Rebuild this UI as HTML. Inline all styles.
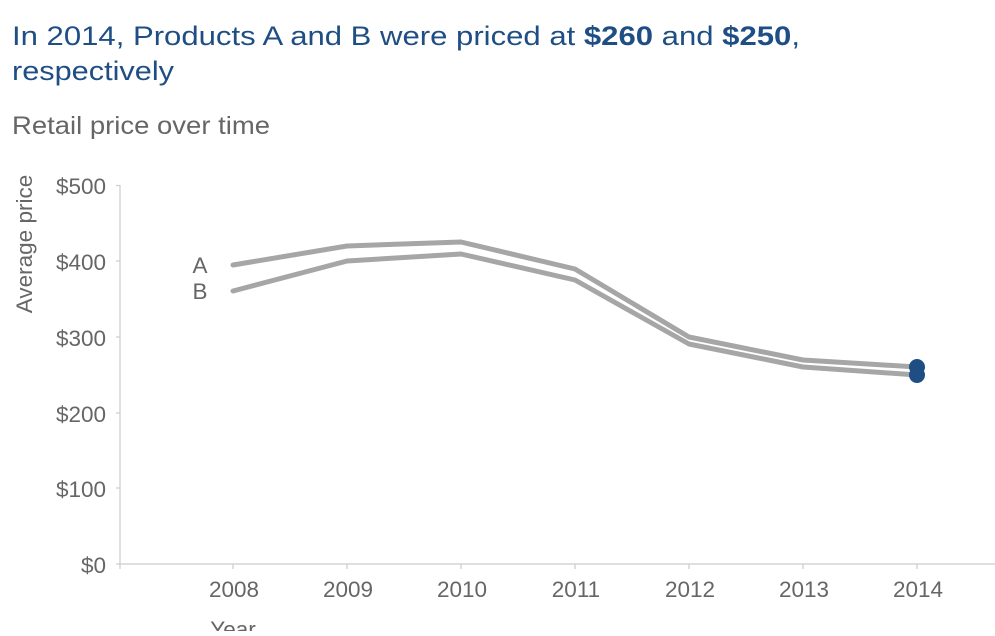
<!DOCTYPE html>
<html><head><style>
body{margin:0;width:995px;height:631px;overflow:hidden;background:#fff;font-family:"Liberation Sans",sans-serif}
</style></head><body>
<svg width="995" height="631" xmlns="http://www.w3.org/2000/svg" font-family="Liberation Sans, sans-serif">
<text x="12" y="45" font-size="27" fill="#1f4e85" textLength="788" lengthAdjust="spacingAndGlyphs">In 2014, Products A and B were priced at <tspan font-weight="bold">$260</tspan> and <tspan font-weight="bold">$250</tspan>,</text>
<text x="12" y="80" font-size="27" fill="#1f4e85" textLength="162" lengthAdjust="spacingAndGlyphs">respectively</text>
<text x="12" y="134" font-size="25" fill="#666" textLength="258" lengthAdjust="spacingAndGlyphs">Retail price over time</text>
<g stroke="#ccc" stroke-width="1.2" fill="none">
<line x1="120" y1="185" x2="120" y2="564"/>
<line x1="120" y1="564" x2="995" y2="564"/>
<line x1="116" y1="185.5" x2="120" y2="185.5"/>
<line x1="116" y1="261" x2="120" y2="261"/>
<line x1="116" y1="337" x2="120" y2="337"/>
<line x1="116" y1="413" x2="120" y2="413"/>
<line x1="116" y1="488" x2="120" y2="488"/>
<line x1="116" y1="564" x2="120" y2="564"/>
<line x1="120" y1="564" x2="120" y2="569"/>
<line x1="233" y1="564" x2="233" y2="569"/>
<line x1="347" y1="564" x2="347" y2="569"/>
<line x1="461" y1="564" x2="461" y2="569"/>
<line x1="575" y1="564" x2="575" y2="569"/>
<line x1="689" y1="564" x2="689" y2="569"/>
<line x1="803" y1="564" x2="803" y2="569"/>
<line x1="917" y1="564" x2="917" y2="569"/>
</g>
<g font-size="22.5" fill="#666" text-anchor="end">
<text x="106" y="194">$500</text>
<text x="106" y="270">$400</text>
<text x="106" y="346">$300</text>
<text x="106" y="422">$200</text>
<text x="106" y="497">$100</text>
<text x="106" y="573">$0</text>
</g>
<g font-size="22.5" fill="#666" text-anchor="middle">
<text x="234" y="597">2008</text>
<text x="348" y="597">2009</text>
<text x="462" y="597">2010</text>
<text x="576" y="597">2011</text>
<text x="690" y="597">2012</text>
<text x="804" y="597">2013</text>
<text x="918" y="597">2014</text>
<text x="233" y="637">Year</text>
<text transform="translate(32,244) rotate(-90)">Average price</text>
<text x="200" y="273">A</text>
<text x="200" y="299">B</text>
</g>
<g fill="none" stroke="#a6a6a6" stroke-width="5" stroke-linejoin="round" stroke-linecap="round">
<polyline points="233,265 347,246 461,242 575,269 689,337 803,360 917,367"/>
<polyline points="233,291 347,261 461,254 575,280 689,344 803,367 917,375"/>
</g>
<circle cx="917" cy="367" r="8" fill="#1f4e85"/>
<circle cx="917" cy="375" r="8" fill="#1f4e85"/>
</svg>
</body></html>
